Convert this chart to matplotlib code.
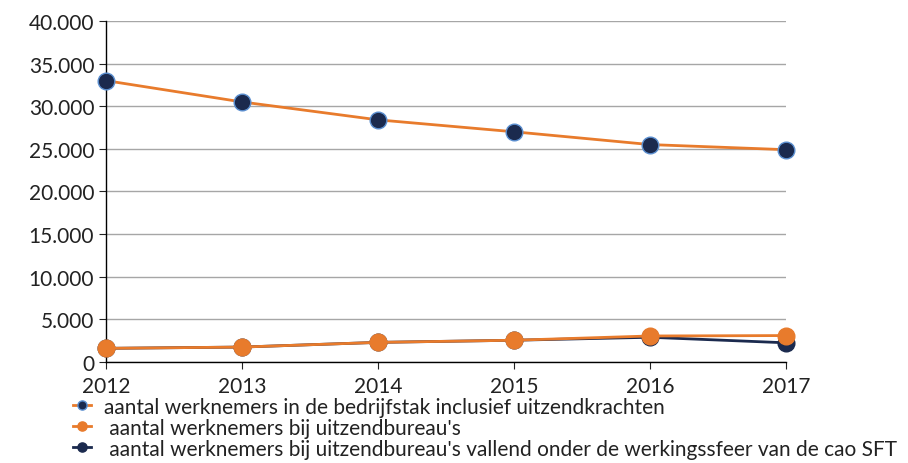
import matplotlib.pyplot as plt
from matplotlib.ticker import FuncFormatter

plt.rcParams['font.family'] = ['Lato', 'DejaVu Sans']

years = [2012, 2013, 2014, 2015, 2016, 2017]
totaal = [33000, 30500, 28400, 27000, 25500, 24900]
uitzend = [1600, 1750, 2300, 2550, 3050, 3100]
uitzend_sft = [1600, 1750, 2300, 2550, 2900, 2250]

labels = [
    "aantal werknemers in de bedrijfstak inclusief uitzendkrachten",
    " aantal werknemers bij uitzendbureau's",
    " aantal werknemers bij uitzendbureau's vallend onder de werkingssfeer van de cao SFT",
]

navy = "#1b2a4e"
orange = "#e87b2c"

fig = plt.figure(figsize=(9.08, 4.64), dpi=100)
ax = fig.add_axes([0.1167, 0.2177, 0.749, 0.735])

ax.plot(years, totaal, color=orange, lw=2, marker="o", ms=12,
        mfc=navy, mec="#5b8fd0", mew=1, label=labels[0], zorder=3, clip_on=False)
ax.plot(years, uitzend_sft, color=navy, lw=2, marker="o", ms=12,
        mfc=navy, mec=navy, label=labels[2], zorder=3, clip_on=False)
ax.plot(years, uitzend, color=orange, lw=2, marker="o", ms=12,
        mfc=orange, mec=orange, label=labels[1], zorder=4, clip_on=False)

ax.set_xlim(2012, 2017)
ax.set_ylim(0, 40000)
ax.set_yticks(range(0, 40001, 5000))
ax.yaxis.set_major_formatter(FuncFormatter(lambda v, p: f"{int(v):,}".replace(",", ".")))
ax.set_xticks(years)
ax.grid(axis="y", color="#a6a6a6", lw=1)
ax.set_axisbelow(True)
for s in ["top", "right"]:
    ax.spines[s].set_visible(False)
for s in ["left", "bottom"]:
    ax.spines[s].set_color("black")
    ax.spines[s].set_linewidth(1)
ax.tick_params(axis="both", labelsize=15, colors="#222222", length=5, direction="out")
ax.tick_params(axis="x", pad=5)
for lab in ax.get_xticklabels() + ax.get_yticklabels():
    lab.set_color("#222222")

h, l = ax.get_legend_handles_labels()
order = [0, 2, 1]
leg = fig.legend([h[i] for i in order], [l[i] for i in order],
                 loc="upper left", bbox_to_anchor=(0.08, 0.143), frameon=False,
                 fontsize=15, markerscale=0.55, handlelength=0.9, handletextpad=0.6,
                 labelspacing=0.05, borderpad=0, borderaxespad=0)
for t in leg.get_texts():
    t.set_color("#222222")

fig.savefig("out.png", dpi=100)
